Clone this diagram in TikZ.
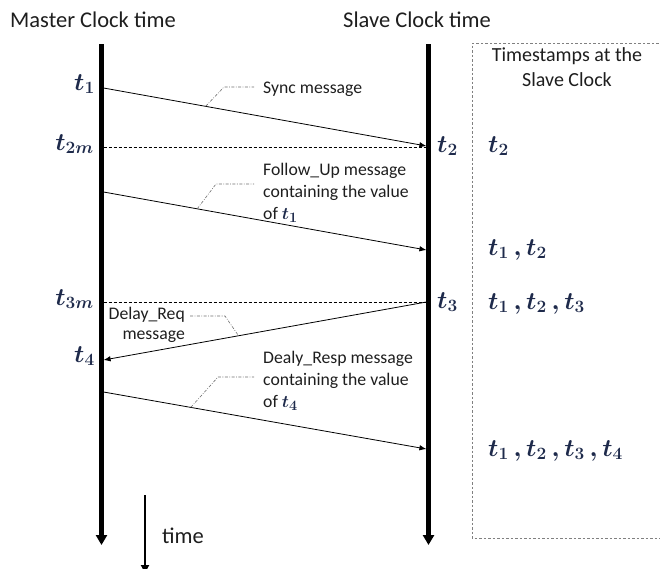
\documentclass[tikz,border=0pt]{standalone}
\usepackage{fontspec}
\setmainfont{Carlito}
\usetikzlibrary{arrows.meta,calc}
\definecolor{txt}{RGB}{30,30,30}
\definecolor{tcol}{RGB}{30,42,75}
\definecolor{callc}{RGB}{110,110,110}
\newcommand{\cm}{\,{,}\,}
\begin{document}
\begin{tikzpicture}[x=1pt,y=-1pt,
 head/.style={font=\fontsize{22.5}{27}\selectfont, text=txt, inner sep=0pt},
 lbl/.style={font=\fontsize{17.7}{22}\selectfont, text=txt, inner sep=0pt},
 boxtxt/.style={font=\fontsize{20}{25}\selectfont, text=txt, inner sep=0pt, align=center},
 ts/.style={font=\fontsize{23.5}{27}\selectfont\boldmath, text=tcol, inner sep=0pt},
 life/.style={line width=4.2pt, -{Triangle[length=10pt,width=11pt]}},
 msg/.style={line width=0.8pt, -{Latex[length=7pt,width=5.5pt]}},
 sline/.style={line width=0.7pt, dash pattern=on 3pt off 2pt},
 call/.style={callc, line width=0.6pt, dash pattern=on 3pt off 1.5pt on 0.8pt off 1.5pt},
 boxline/.style={gray, line width=0.6pt, dash pattern=on 2.5pt off 2pt},
]
\useasboundingbox (0,0) rectangle (660,568);

% headers
\node[head, anchor=base west] (hm) at (10,27) {Master Clock time};
\node[head, anchor=base west] (hs) at (343,27) {Slave Clock time};
\node[boxtxt, anchor=north] (hb) at (567,47) {Timestamps at the\\Slave Clock};

% timestamp box
\coordinate (b1) at (672,43);
\coordinate (b2) at (472,43);
\coordinate (b3) at (472,538);
\coordinate (b4) at (672,538);
\draw[boxline] (b1) -- (b2) -- (b3) -- (b4);

% lifelines
\coordinate (mtop) at (101.5,44);
\coordinate (mbot) at (101.5,545);
\coordinate (stop) at (428.5,44);
\coordinate (sbot) at (428.5,545);
\draw[life] (mtop) -- (mbot);
\draw[life] (stop) -- (sbot);

% message endpoints
\coordinate (m1) at (103.6,88);  \coordinate (s1) at (426.4,146);
\coordinate (m2) at (103.6,192); \coordinate (s2) at (426.4,250);
\coordinate (s3) at (426.4,302); \coordinate (m3) at (103.6,360);
\coordinate (m4) at (103.6,392); \coordinate (s4) at (426.4,449);

% dashed time lines
\coordinate (d2a) at (103.6,147); \coordinate (d2b) at (426.4,147);
\coordinate (d3a) at (103.6,302); \coordinate (d3b) at (426.4,302);
\draw[sline] (d2a) -- (d2b);
\draw[sline] (d3a) -- (d3b);

% messages
\draw[msg] (m1) -- (s1);
\draw[msg] (m2) -- (s2);
\draw[msg] (s3) -- (m3);
\draw[msg] (m4) -- (s4);

% labels
\node[lbl, anchor=base west] (lsync) at (263,93) {Sync message};
\node[lbl, anchor=base west] (lfu1) at (263,175) {Follow\_Up message};
\node[lbl, anchor=base west] (lfu2) at (263,197) {containing the value};
\node[lbl, anchor=base west] (lfu3) at (263,219) {of {\color{tcol}\fontsize{19}{22}\selectfont\boldmath$t_1$}};
\node[lbl, anchor=base east] (ldr1) at (185,319) {Delay\_Req};
\node[lbl, anchor=base east] (ldr2) at (185,339) {message};
\node[lbl, anchor=base west] (lrs1) at (263,363) {Dealy\_Resp message};
\node[lbl, anchor=base west] (lrs2) at (263,385) {containing the value};
\node[lbl, anchor=base west] (lrs3) at (263,407) {of {\color{tcol}\fontsize{19}{22}\selectfont\boldmath$t_4$}};

% callouts
\coordinate (c1a) at ($(m1)!0.316!(s1)$);
\coordinate (c1b) at (224,87);
\coordinate (c1c) at (254,87);
\draw[call] (c1a) -- (c1b) -- (c1c);
\coordinate (c2a) at ($(m2)!0.29!(s2)$);
\coordinate (c2b) at (216,184);
\coordinate (c2c) at (254,184);
\draw[call] (c2a) -- (c2b) -- (c2c);
\coordinate (c3a) at (190,316);
\coordinate (c3b) at (225,316);
\coordinate (c3c) at ($(s3)!0.582!(m3)$);
\draw[call] (c3a) -- (c3b) -- (c3c);
\coordinate (c4a) at ($(m4)!0.27!(s4)$);
\coordinate (c4b) at (218,377);
\coordinate (c4c) at (254,377);
\draw[call] (c4a) -- (c4b) -- (c4c);

% master timestamps
\node[ts, anchor=base east] (tm1) at (95,90) {$t_1$};
\node[ts, anchor=base east] (tm2) at (94,150) {$t_{2m}$};
\node[ts, anchor=base east] (tm3) at (94,305) {$t_{3m}$};
\node[ts, anchor=base east] (tm4) at (95,362) {$t_4$};

% slave timestamps
\node[ts, anchor=base west] (ts2) at (437,152) {$t_2$};
\node[ts, anchor=base west] (ts3) at (437,308) {$t_3$};

% timestamp column
\node[ts, anchor=base west] (r1) at (488,152) {$t_2$};
\node[ts, anchor=base west] (r2) at (488,255) {$t_1\cm t_2$};
\node[ts, anchor=base west] (r3) at (488,309) {$t_1\cm t_2\cm t_3$};
\node[ts, anchor=base west] (r4) at (488,456) {$t_1\cm t_2\cm t_3\cm t_4$};

% time arrow
\coordinate (ta) at (145,495);
\coordinate (tb) at (145,573);
\draw[line width=2pt, -{Triangle[length=8pt,width=8pt]}] (ta) -- (tb);
\node[head, anchor=base west] (ltime) at (162,543) {time};
\end{tikzpicture}
\end{document}
